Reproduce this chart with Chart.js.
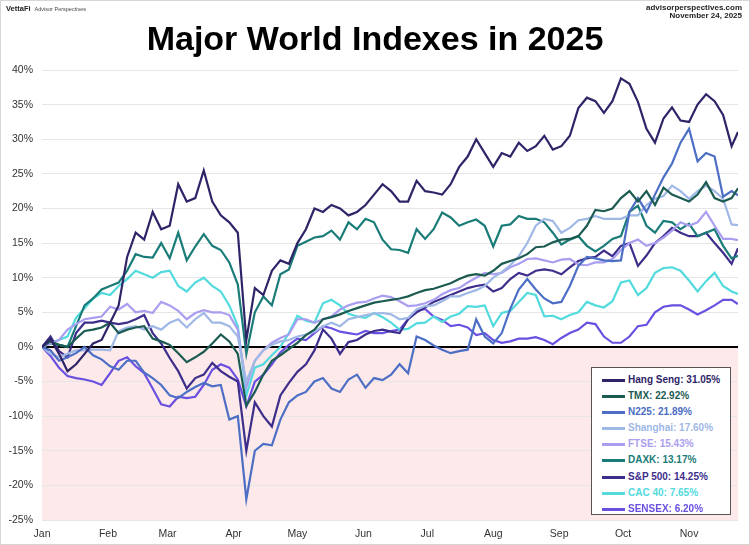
<!DOCTYPE html>
<html>
<head>
<meta charset="utf-8">
<script src="https://cdn.jsdelivr.net/npm/chart.js@4.4.1/dist/chart.umd.min.js"></script>
<style>
body{margin:0;background:#fff;font-family:"Liberation Sans",Arial,sans-serif;}
#wrap{position:relative;width:750px;height:545px;overflow:hidden;}
#chart{position:absolute;left:0;top:0;}
#frame{position:absolute;left:0;top:0;width:750px;height:545px;box-sizing:border-box;border:1px solid #d6d6d6;pointer-events:none;}
.hdr{position:absolute;white-space:nowrap;color:#222;}
#brand{left:6px;top:5px;font-size:7.5px;font-weight:bold;line-height:8px;}
#brand span{font-weight:normal;font-size:5.5px;margin-left:4px;color:#444;}
#site{right:8px;top:4px;font-size:8px;font-weight:bold;line-height:8px;text-align:right;}
#title{position:absolute;left:0;top:20px;width:750px;text-align:center;font-size:34px;line-height:36px;font-weight:bold;color:#000;}
#legend{position:absolute;left:591px;top:367px;width:140px;height:148px;box-sizing:border-box;border:1px solid #555;background:#fff;padding-top:4px;}
.row{position:relative;height:16.1px;font-size:10px;font-weight:bold;line-height:16.1px;white-space:nowrap;}
.row i{position:absolute;left:10px;top:7px;width:23px;height:3px;}
.row b{position:absolute;left:36px;top:0;}
</style>
</head>
<body>
<div id="wrap">
  <canvas id="chart" width="750" height="545"></canvas>
  <div class="hdr" id="brand">VettaFi<span>Advisor Perspectives</span></div>
  <div class="hdr" id="site">advisorperspectives.com<br>November 24, 2025</div>
  <div id="title">Major World Indexes in 2025</div>
  <div id="legend"></div>
  <div id="frame"></div>
</div>
<script>
// day of year (0 = Jan 1) for each sample
let days = [0,4,8,12,16,20,24,28,32,36,
  40,44,48,52,56,60,64,68,72,76,
  80,84,88,92,96,100,104,108,112,116,
  120,124,128,132,136,140,144,148,152,156,
  160,164,168,172,176,180,184,188,192,196,
  200,204,208,212,216,220,224,228,232,236,
  240,244,248,252,256,260,264,268,272,276,
  280,284,288,292,296,300,304,308,312,316,
  320,324,327];

let monthStarts = [0,31,59,90,120,151,181,212,243,273,304];
let monthNames = ["Jan","Feb","Mar","Apr","May","Jun","Jul","Aug","Sep","Oct","Nov"];

// percent change since Jan 1
let hangSeng = [0,1.2,-1,-3.5,-2.5,-1,0.5,1,3.5,6,
  13,16.5,15.5,19.5,17,17.5,23.5,21,21.5,25.5,
  21,19,18,16.5,1,8.5,7.5,11,12.5,12,
  15,17,20,19.5,20.5,20,19,19.5,20.5,22,
  23.5,22.5,21,21,24,22.5,22.3,22,23.5,26,
  27.5,30,28,26,28,27.5,29.5,28.3,29,30.5,
  28.5,29,30.5,34.5,36,35.5,33.8,35.5,38.8,38,
  35.4,31.5,29.5,33,34.6,32.7,32.5,35,36.5,35.5,
  33.5,29,31.05];
let tmx = [0,0.8,0.3,0,1.2,2.3,2.5,2.8,3.5,2,
  2.5,2.8,3,1.2,0.8,0.3,-0.9,-2.2,-1.5,-0.7,
  0.5,1.8,0.8,-1,-8.5,-6.5,-4,-2,-1.2,-0.3,
  0.6,1.7,2.5,4,4.3,4.7,5.2,5.6,6,6.4,
  6.6,6.8,7,7.3,7.8,8.2,8.4,8.8,9.2,9.8,
  10.3,10.5,10.3,11,12,12.4,12.8,13.4,14.4,14.5,
  15.1,15.5,15.6,16,17.5,19.8,19.6,20,21.5,22.5,
  21,22.5,20.5,23,22,21.5,21,22,23.8,21.5,
  21,21.5,22.92];
let n225 = [0,-0.5,-2,-1.5,-0.9,0,-1.2,-1.8,-2.8,-3.3,
  -2,-2,-3.7,-4.5,-5.5,-7,-7.4,-6.5,-5.8,-5.2,
  -5.7,-5.5,-10.5,-10,-22,-15,-14,-14.2,-10.5,-8,
  -7,-6.5,-5,-4.5,-6,-6.5,-4.7,-4,-5.9,-4.5,
  -4.8,-4,-2.5,-3.8,1.5,1,0.2,-0.4,-0.9,-0.6,
  -0.4,4,1.5,0.5,2,5.5,8.3,9.8,8.3,7,
  6.3,6.5,8.8,11.7,13,12.8,12.5,12.4,12.5,19.5,
  21.5,19.5,22,24.5,26.5,29.5,31.5,26.8,28,27.5,
  21.7,22.5,21.89];
let shanghai = [0,-1,-1.5,-1,-0.5,-0.5,-0.4,-0.4,-0.5,2.3,
  2.8,3,2.5,3,2.5,3.5,4,2.8,4,4.9,
  3.5,3.5,3,1.5,-5,-2,-0.5,0.3,0.8,1,
  1.5,1.8,2.2,3,3.5,3,4,4.3,4.6,4.8,
  4.9,4.7,4,4.2,5.4,5.9,6,6.6,7.3,7.3,
  7.8,8.2,8.8,10,10.8,11.8,13.1,15,17.5,18.5,
  18.2,16.5,17.2,18.3,18.5,18.9,18.5,18.5,18.5,19,
  19,20.5,21.4,21.8,23.3,22.5,21.4,22.5,23.3,22.5,
  21.4,17.7,17.6];
let ftse = [0,0.5,1,2.5,3.3,4,4.2,4.4,5.8,5.4,
  6.2,5,5.2,4.9,6.5,6,5.2,4,4.9,5.3,
  5,5,4.6,2.5,-5.8,-2,-0.5,0.6,1.3,1.8,
  4,4,3.5,4,4.4,5.4,6,6.4,6.5,7,
  7.4,7.2,6.6,5.9,6,6.3,6.8,7.6,8.2,8.5,
  9.3,10,10.7,10.5,10.7,11.5,12,12.7,12.8,12.5,
  12.2,12.6,12.7,11.9,11.8,12.2,12.2,12.7,14,15,
  15.5,14.6,15,15.8,16.8,18,17.5,18,19.5,17.5,
  15.6,15.6,15.43];
let daxk = [0,0.5,0.3,0,3,6,7,8.3,8.8,9.3,
  11,13.4,13,12.9,15,12.8,16.5,12.5,14.5,16.3,
  14.6,14,12.2,9,-1,5,7.3,6,10.5,11.2,
  14.6,15.2,15.8,16,16.8,15.5,18,17,18.5,18,
  15.5,14.1,14,13.6,17,15.6,17,19.4,18.7,17.5,
  18,18.4,17.5,14.5,17.5,17.7,18.9,18.5,18.5,18,
  16.5,14.8,15.5,16,14.6,13.8,14.6,15.6,16,19.5,
  20.4,17.5,16.5,18.2,18,17,17.8,16,16.5,17,
  14.6,12.8,13.17];
let sp500 = [0,1.5,-0.6,-1.5,2,3.5,3.5,3.8,3.5,3.3,
  3.5,4,4.6,2,0.5,-1.6,-3.5,-6,-4.5,-4,
  -2.3,-3.5,-4.3,-5,-15,-8,-10,-11.5,-7,-5.2,
  -3.6,-2.5,-0.5,2.5,1.2,-1,0.7,1,1.8,2.3,
  2.5,2.2,2,4,5,5.7,6.5,7,7.5,8,
  8.5,8.8,9,8,8.5,9.8,10.7,10.3,11,11.2,
  11,10.5,11.5,12.4,12.8,13,13.9,13.1,14.6,15,
  11.7,13.2,15,16,17.2,16.5,16,16,16.5,15,
  13.6,12,14.25];
let cac40 = [0,0.6,1,1.5,4.2,5.6,7,7.8,7.5,8.8,
  9.8,11,10.5,10,10.8,11,8.8,8,9.3,10,
  8.8,8,6,3,-7,-3,-2.5,-1.2,0,2,
  4.5,3.8,3.5,6.3,6.8,6,4.8,4.4,4.2,4.9,
  4.3,3.5,2.5,2.6,3.4,3.5,4.4,3.6,4.4,4.8,
  5.9,5.8,6,3,4.9,5.2,6.5,7.8,7.5,4.4,
  4.5,4,4.6,5,6.5,6,5.7,6.6,9.3,9.6,
  7.5,8.5,10.7,11.4,11.5,11,9.6,8,9.5,10.7,
  8.8,8,7.65];
let sensex = [0,-1.3,-3,-4.2,-4.5,-4.7,-5,-5.5,-3.8,-2,
  -1.5,-2.8,-3.8,-6,-8.3,-8.6,-7.2,-7.4,-7.2,-5.5,
  -3.3,-2.5,-3,-4.7,-8.6,-5,-4,-2.5,-0.8,0.3,
  1.2,1,2,3,2.7,2.2,2,1.8,2.3,2,
  2,2.3,2.5,4,5.2,5.5,4.4,3.9,3,3.2,
  2.8,1.7,2,1,0.6,0.8,1.2,1.2,1.4,1,
  0.4,1.3,2,2.5,3.5,3.3,1.5,0.6,0.6,1.5,
  3,3.2,5,5.8,6,6,5.4,4.7,5.3,6,
  6.8,6.8,6.2];

let names = ["Hang Seng","TMX","N225","Shanghai","FTSE","DAXK","S&P 500","CAC 40","SENSEX"];
let endLabels = ["31.05%","22.92%","21.89%","17.60%","15.43%","13.17%","14.25%","7.65%","6.20%"];
let colors = ["#2e2468","#1c5b52","#4c6ec4","#a0b8e6","#aa9ef0","#1a7c78","#3d2e8c","#52dadd","#6a4fe0"];
let allSeries = [hangSeng,tmx,n225,shanghai,ftse,daxk,sp500,cac40,sensex];

// legend box
let legend = document.getElementById("legend");
names.forEach((n,i) => {
    let row = document.createElement("div");
    row.className = "row";
    row.innerHTML = `<i style="background:${colors[i]}"></i><b style="color:${colors[i]}">${n.replace("&","&amp;")}: ${endLabels[i]}</b>`;
    legend.appendChild(row);
});

// pink area below zero
const belowZero = {
    id: "belowZero",
    beforeDraw(chart) {
        const {ctx, chartArea, scales} = chart;
        const y0 = scales.y.getPixelForValue(0);
        ctx.save();
        ctx.fillStyle = "#fde9e9";
        ctx.fillRect(chartArea.left, y0, chartArea.right - chartArea.left, chartArea.bottom - y0);
        ctx.restore();
    }
};

new Chart(document.getElementById("chart"), {
    type: "line",
    data: {
        datasets: allSeries.map((s,i) => ({
            label: names[i],
            data: days.map((d,j) => ({x: d, y: s[j]})),
            borderColor: colors[i],
            borderWidth: 2.2,
            pointRadius: 0,
            tension: 0,
            fill: false
        }))
    },
    options: {
        responsive: false,
        animation: false,
        layout: {padding: {top: 70, right: 12, left: 0, bottom: 0}},
        plugins: {legend: {display: false}, tooltip: {enabled: false}},
        scales: {
            x: {
                type: "linear", min: 0, max: 327,
                grid: {display: false},
                border: {display: false},
                afterBuildTicks: s => { s.ticks = monthStarts.map(v => ({value: v})); },
                afterFit: s => { s.height = 25; },
                ticks: {autoSkip: false, maxRotation: 0, padding: 0, color: "#333",
                    font: {family: "Liberation Sans", size: 10.5},
                    callback: (v, i) => monthNames[i]}
            },
            y: {
                min: -25, max: 40,
                afterFit: s => { s.width = 42; },
                border: {display: false},
                grid: {
                    drawTicks: false,
                    color: c => c.tick && c.tick.value === 0 ? "#000" : "#e6e6e6",
                    lineWidth: c => c.tick && c.tick.value === 0 ? 2 : 1
                },
                ticks: {stepSize: 5, padding: 9, color: "#333",
                    font: {family: "Liberation Sans", size: 10.5},
                    callback: v => v + "%"}
            }
        }
    },
    plugins: [belowZero]
});
</script>
</body>
</html>
